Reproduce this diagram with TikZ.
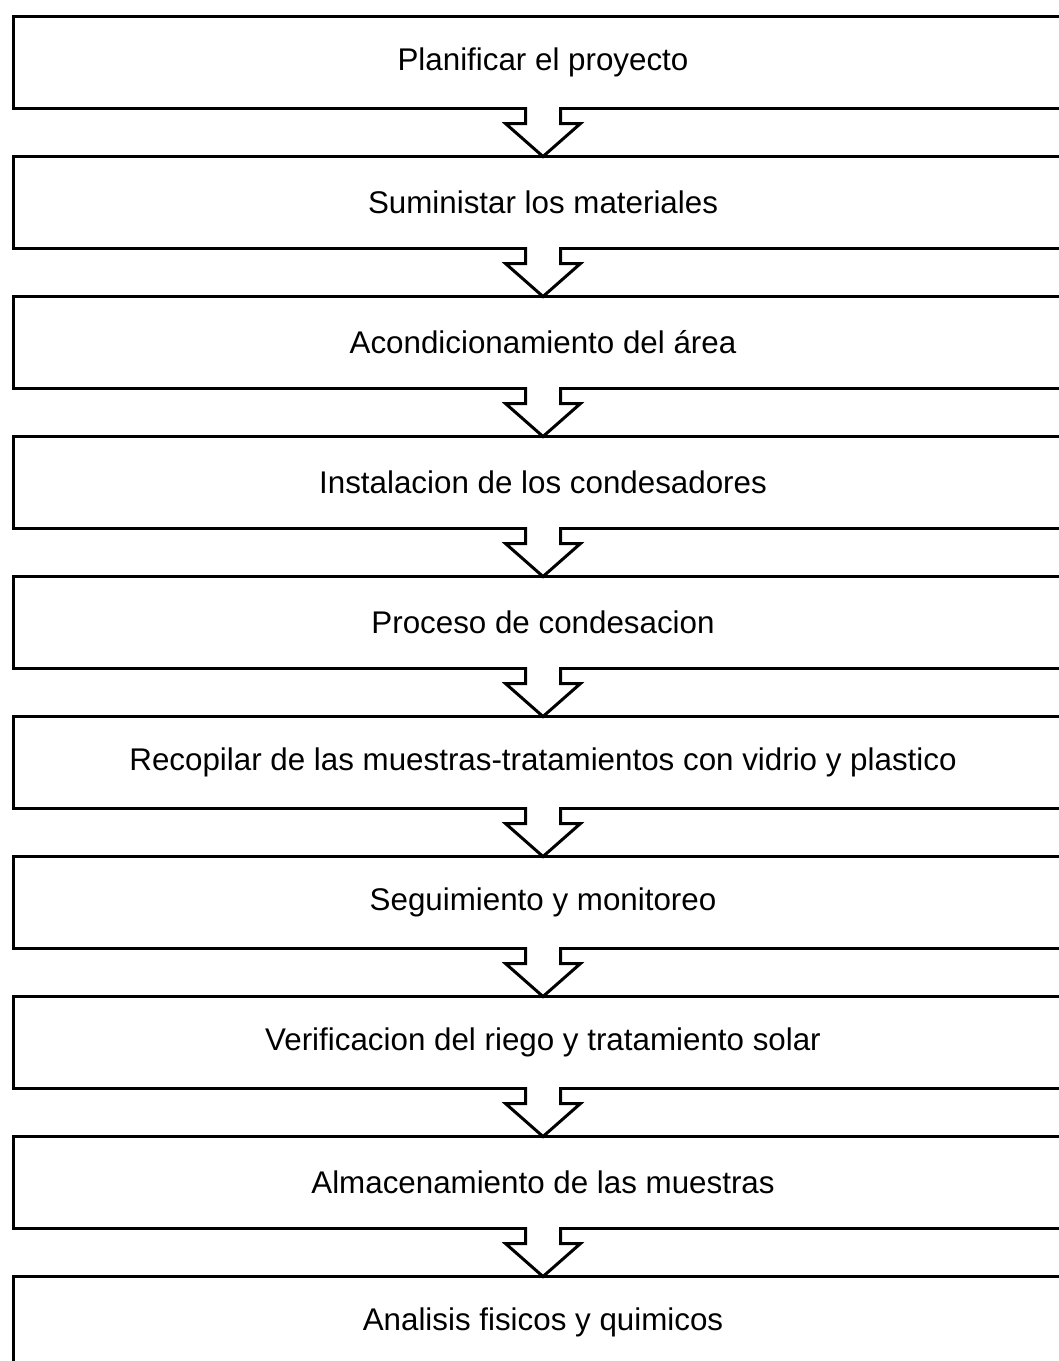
\documentclass[tikz,border=0pt]{standalone}
\usepackage{fontspec}
\setmainfont{Liberation Sans}
\usetikzlibrary{positioning,calc}

% hollow block arrow from the bottom of one step to the top of the next
\newcommand{\stepdown}[2]{%
  \fill[white] ($(#1.south)+(-17.5,-2)$) -- ($(#1.south)+(-17.5,15)$) -- ($(#1.south)+(-37.5,15)$)
    -- (#2.north) -- ($(#1.south)+(37.5,15)$) -- ($(#1.south)+(17.5,15)$) -- ($(#1.south)+(17.5,-2)$) -- cycle;
  \draw[outline] ($(#1.south)+(-17.5,-1.5)$) -- ($(#1.south)+(-17.5,15)$) -- ($(#1.south)+(-37.5,15)$)
    -- (#2.north) -- ($(#1.south)+(37.5,15)$) -- ($(#1.south)+(17.5,15)$) -- ($(#1.south)+(17.5,-1.5)$);}

\begin{document}
\begin{tikzpicture}[
  x=0.75pt, y=-0.75pt, node distance=36pt,
  outline/.style={line width=2.25pt, line join=miter},
  stepbox/.style={draw, outline, outer sep=0pt, minimum width=795pt, minimum height=69pt,
    inner sep=0pt, font=\fontsize{23.5pt}{28pt}\selectfont}
]
\useasboundingbox (0,0) rectangle (1059,1361);
\clip (0,0) rectangle (1059,1361);

\node[stepbox] (plan) at (543,62.5) {Planificar el proyecto};
\node[stepbox, below=of plan] (sumin) {Suministar los materiales};
\node[stepbox, below=of sumin] (acond) {Acondicionamiento del área};
\node[stepbox, below=of acond] (instal) {Instalacion de los condesadores};
\node[stepbox, below=of instal] (proc) {Proceso de condesacion};
\node[stepbox, below=of proc] (recop) {Recopilar de las muestras-tratamientos con vidrio y plastico};
\node[stepbox, below=of recop] (segui) {Seguimiento y monitoreo};
\node[stepbox, below=of segui] (verif) {Verificacion del riego y tratamiento solar};
\node[stepbox, below=of verif] (almac) {Almacenamiento de las muestras};
\node[stepbox, below=of almac] (anal) {Analisis fisicos y quimicos};

\stepdown{plan}{sumin}
\stepdown{sumin}{acond}
\stepdown{acond}{instal}
\stepdown{instal}{proc}
\stepdown{proc}{recop}
\stepdown{recop}{segui}
\stepdown{segui}{verif}
\stepdown{verif}{almac}
\stepdown{almac}{anal}
\end{tikzpicture}
\end{document}
